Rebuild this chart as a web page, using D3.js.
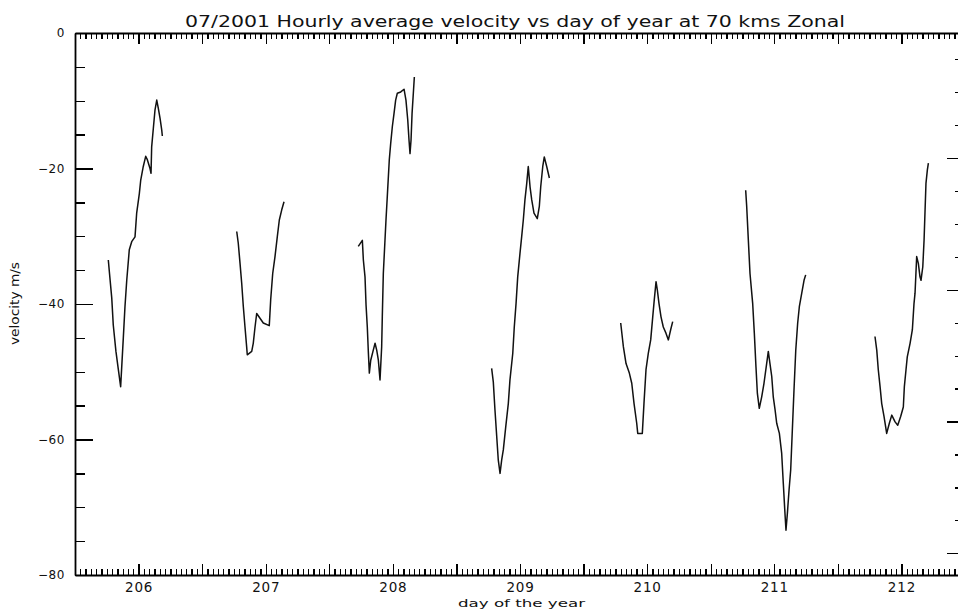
<!DOCTYPE html>
<html>
<head>
<meta charset="utf-8">
<script src="https://cdn.jsdelivr.net/npm/d3@7"></script>
<style>
  body { margin: 0; background: #ffffff; }
  svg { display: block; }
  text { font-family: "DejaVu Sans", "Liberation Sans", sans-serif; fill: #111; }
</style>
</head>
<body>
<svg id="chart" width="958" height="611"></svg>
<script>
// ---- labels ----
const titleText = "07/2001 Hourly average velocity vs day of year at 70 kms Zonal";
const xLabelText = "day of the year";
const yLabelText = "velocity m/s";

// ---- axis ranges and ticks ----
const xDomain = [205.5, 212.5];
const yDomain = [0, -80];
const xTickDays = [206, 207, 208, 209, 210, 211, 212];
const yTickValues = [0, -20, -40, -60, -80];
const rightDomain = [-1, -83.3];          // secondary (right) axis, unlabelled
const rightMajor = [-20, -40, -60, -80];

// ---- velocity passes (day of year, m/s) ----
const pass1Day = [205.762,205.770,205.789,205.801,205.822,205.841,205.859,205.880,205.893,205.907,205.927,205.946,205.972,205.985,206.006,206.017,206.037,206.056,206.069,206.090,206.098,206.103,206.116,206.129,206.143,206.155,206.169,206.182,206.187];
const pass1Vel = [-33.5,-35.2,-39.1,-43.1,-47.0,-49.7,-52.2,-45.0,-40.4,-36.5,-32.0,-30.8,-30.1,-26.6,-23.7,-21.7,-19.7,-18.2,-18.7,-20.0,-20.7,-16.8,-14.1,-11.4,-9.9,-11.1,-12.6,-14.3,-15.2];

const pass2Day = [206.772,206.784,206.798,206.811,206.824,206.837,206.850,206.855,206.890,206.902,206.916,206.929,206.955,206.981,207.028,207.039,207.055,207.073,207.091,207.107,207.126,207.144];
const pass2Vel = [-29.3,-31.0,-34.0,-36.9,-40.4,-43.4,-46.3,-47.5,-47.0,-45.8,-43.4,-41.4,-42.1,-42.8,-43.2,-39.4,-35.5,-33.0,-30.1,-27.6,-26.1,-24.9];

const pass3Day = [207.728,207.760,207.768,207.781,207.789,207.799,207.807,207.815,207.826,207.846,207.860,207.873,207.886,207.899,207.912,207.917,207.925,207.938,207.946,207.956,207.972,207.983,207.996,208.009,208.022,208.035,208.062,208.088,208.103,208.117,208.127,208.135,208.143,208.151,208.161,208.169];
const pass3Vel = [-31.5,-30.6,-33.5,-36.0,-40.1,-43.4,-47.0,-50.2,-48.3,-46.8,-45.8,-46.8,-48.3,-51.2,-46.3,-41.9,-35.5,-30.6,-27.6,-24.2,-18.7,-16.3,-13.8,-11.9,-9.9,-8.9,-8.7,-8.3,-9.9,-12.8,-15.8,-17.8,-15.8,-11.9,-8.9,-6.5];

const pass4Day = [208.777,208.790,208.803,208.817,208.829,208.843,208.856,208.869,208.888,208.908,208.921,208.943,208.955,208.969,208.982,209.000,209.013,209.026,209.039,209.053,209.065,209.079,209.092,209.110,209.136,209.152,209.163,209.179,209.191,209.210,209.231];
const pass4Vel = [-49.5,-51.5,-55.6,-59.6,-63.0,-65.0,-63.0,-61.5,-58.1,-54.7,-51.2,-47.3,-43.4,-39.9,-36.0,-32.5,-30.1,-27.6,-24.6,-22.2,-19.7,-22.7,-24.6,-26.6,-27.4,-25.6,-22.7,-19.7,-18.3,-19.7,-21.4];

const pass5Day = [209.792,209.813,209.834,209.860,209.879,209.897,209.918,209.926,209.962,209.975,209.991,210.009,210.028,210.044,210.056,210.070,210.080,210.093,210.109,210.127,210.148,210.167,210.185,210.201];
const pass5Vel = [-42.8,-46.3,-48.8,-50.2,-51.7,-54.7,-57.6,-59.1,-59.1,-54.7,-49.7,-47.3,-45.3,-41.9,-39.4,-36.7,-37.9,-39.9,-41.9,-43.4,-44.3,-45.3,-43.8,-42.6];

const pass6Day = [210.775,210.783,210.796,210.809,210.830,210.843,210.856,210.867,210.882,210.901,210.919,210.940,210.953,210.966,210.980,210.992,211.006,211.019,211.040,211.058,211.071,211.084,211.092,211.103,211.116,211.129,211.142,211.155,211.169,211.184,211.197,211.216,211.234,211.247];
const pass6Vel = [-23.2,-25.6,-30.6,-35.5,-39.9,-44.3,-49.3,-53.2,-55.4,-53.7,-51.7,-48.8,-47.0,-48.8,-50.7,-53.7,-55.6,-57.6,-59.1,-62.0,-66.5,-70.9,-73.4,-70.9,-67.5,-64.5,-58.6,-52.7,-46.8,-42.8,-40.4,-38.4,-36.5,-35.7];

const pass7Day = [211.792,211.806,211.818,211.832,211.845,211.863,211.884,211.905,211.924,211.950,211.971,211.994,212.015,212.023,212.036,212.046,212.068,212.086,212.099,212.107,212.120,212.133,212.146,212.154,212.168,212.178,212.186,212.193,212.204,212.212];
const pass7Vel = [-44.8,-46.8,-49.7,-52.2,-54.7,-56.6,-59.1,-57.6,-56.4,-57.4,-57.9,-56.6,-55.2,-52.2,-49.7,-47.8,-45.8,-43.8,-39.9,-38.4,-33.0,-34.0,-36.0,-36.5,-34.5,-30.6,-26.1,-22.2,-20.2,-19.2];

const passes = [
  [pass1Day, pass1Vel], [pass2Day, pass2Vel], [pass3Day, pass3Vel], [pass4Day, pass4Vel],
  [pass5Day, pass5Vel], [pass6Day, pass6Vel], [pass7Day, pass7Vel]
];

// ---- frame ----
const plot = { left: 75, right: 965, top: 33, bottom: 575 };
const svg = d3.select("#chart");

const x = d3.scaleLinear().domain(xDomain).range([plot.left, plot.right]);
const y = d3.scaleLinear().domain(yDomain).range([plot.top, plot.bottom]);
const yR = d3.scaleLinear().domain(rightDomain).range([plot.top, plot.bottom]);

const hourTicks = d3.range(0, 7 * 24 + 1).map(h => xDomain[0] + h / 24);
const halfDayTicks = d3.range(0, 15).map(k => xDomain[0] + k / 2);
const yMinor = d3.range(0, -81, -5);
const rightMinor = d3.range(-5, -81, -5);

function styleAxis(g, keepDomain) {
  if (!keepDomain) g.select(".domain").remove();
  g.selectAll("line").attr("stroke", "#000").attr("stroke-width", 1.3)
    .attr("shape-rendering", "crispEdges");
  g.selectAll(".domain").attr("stroke", "#000").attr("stroke-width", 1.8);
}

// bottom axis: hourly minor ticks, half-day and day major ticks, day labels
svg.append("g").attr("transform", `translate(0,${plot.bottom})`)
  .call(d3.axisBottom(x).tickValues(hourTicks).tickSize(-6).tickFormat(""))
  .call(g => styleAxis(g, false));
svg.append("g").attr("transform", `translate(0,${plot.bottom})`)
  .call(d3.axisBottom(x).tickValues(halfDayTicks).tickSizeInner(-11).tickSizeOuter(0).tickPadding(6)
    .tickFormat(d => xTickDays.includes(d) ? d3.format("d")(d) : ""))
  .call(g => styleAxis(g, true))
  .call(g => g.selectAll("text").attr("font-size", 13.5).attr("letter-spacing", "0.8px")
    .attr("dy", null).attr("y", 17)
    .attr("font-family", "DejaVu Sans").attr("fill", "#111"));

// top axis mirrors the bottom ticks
svg.append("g").attr("transform", `translate(0,${plot.top})`)
  .call(d3.axisTop(x).tickValues(hourTicks).tickSize(-6).tickFormat(""))
  .call(g => styleAxis(g, false));
svg.append("g").attr("transform", `translate(0,${plot.top})`)
  .call(d3.axisTop(x).tickValues(halfDayTicks).tickSizeInner(-11).tickSizeOuter(0).tickFormat(""))
  .call(g => styleAxis(g, true));

// left axis
svg.append("g").attr("transform", `translate(${plot.left},0)`)
  .call(d3.axisLeft(y).tickValues(yMinor).tickSize(-10).tickFormat(""))
  .call(g => styleAxis(g, false));
svg.append("g").attr("transform", `translate(${plot.left},0)`)
  .call(d3.axisLeft(y).tickValues(yTickValues).tickSizeInner(-18).tickSizeOuter(0).tickPadding(10)
    .tickFormat(d3.format("d")))
  .call(g => styleAxis(g, true))
  .call(g => g.selectAll("text").attr("font-size", 12).attr("letter-spacing", "0.6px")
    .attr("font-family", "DejaVu Sans").attr("fill", "#111"));

// right axis (secondary scale)
svg.append("g").attr("transform", `translate(${plot.right},0)`)
  .call(d3.axisRight(yR).tickValues(rightMinor).tickSize(-10).tickFormat(""))
  .call(g => styleAxis(g, false));
svg.append("g").attr("transform", `translate(${plot.right},0)`)
  .call(d3.axisRight(yR).tickValues(rightMajor).tickSizeInner(-18).tickSizeOuter(0).tickFormat(""))
  .call(g => styleAxis(g, true));

// ---- velocity traces ----
const line = d3.line().x(d => x(d[0])).y(d => y(d[1]));
svg.append("g").selectAll("path")
  .data(passes.map(([days, vels]) => days.map((d, i) => [d, vels[i]])))
  .join("path")
  .attr("d", line)
  .attr("fill", "none")
  .attr("stroke", "#111")
  .attr("stroke-width", 1.5)
  .attr("stroke-linejoin", "round");

// ---- titles ----
svg.append("text")
  .attr("x", 185).attr("y", 27)
  .attr("font-size", 16)
  .attr("textLength", 660).attr("lengthAdjust", "spacingAndGlyphs")
  .text(titleText);

svg.append("text")
  .attr("x", 458).attr("y", 606.5)
  .attr("font-size", 11)
  .attr("textLength", 127).attr("lengthAdjust", "spacingAndGlyphs")
  .text(xLabelText);

svg.append("text")
  .attr("transform", "translate(19,345) rotate(-90)")
  .attr("font-size", 11.5)
  .attr("textLength", 83).attr("lengthAdjust", "spacingAndGlyphs")
  .text(yLabelText);
</script>
</body>
</html>
